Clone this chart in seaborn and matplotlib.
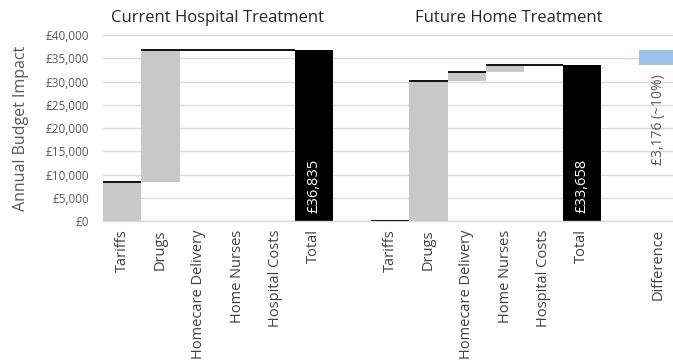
import numpy as np
import pandas as pd
import matplotlib
matplotlib.use("Agg")
import matplotlib.pyplot as plt
import matplotlib.transforms as mtransforms
import seaborn as sns

# ---- data -------------------------------------------------------------
items = ["Tariffs", "Drugs", "Homecare Delivery", "Home Nurses", "Hospital Costs"]
current_costs = [8500, 28335, 0, 0, 0]
future_costs = [120, 29900, 2000, 1638, 0]
current_total = 36835
future_total = 33658
difference = 3176
difference_label = "£3,176 (~10%)"
group_titles = ["Current Hospital Treatment", "Future Home Treatment"]
total_label = "Total"
difference_name = "Difference"

# ---- style ------------------------------------------------------------
sns.set_theme(style="white")
plt.rcParams["font.family"] = ["Open Sans", "DejaVu Sans"]

COLORS = {"step": "#C8C8C8", "total": "#000000", "diff": "#9DC3E6"}
GRID = "#D9D9D9"

fig = plt.figure(figsize=(6.73, 3.63), dpi=100)
ax = fig.add_axes([103 / 673, 0.391, 574.5 / 673, 0.5124])

# slot layout: current block, gap, future block, gap, difference
cur_pos = np.arange(len(items) + 1)
fut_pos = cur_pos + len(items) + 2
diff_pos = fut_pos[-1] + 2

# one row per bar: floating steps, totals and the difference
rows = []
for pos, costs, total in ((cur_pos, current_costs, current_total),
                          (fut_pos, future_costs, future_total)):
    cum = np.cumsum(costs)
    for p, c, t in zip(pos[:-1], costs, cum):
        rows.append({"pos": p, "height": c, "base": t - c, "top": t, "kind": "step"})
    rows.append({"pos": pos[-1], "height": total, "base": 0, "top": total,
                 "kind": "total"})
rows.append({"pos": diff_pos, "height": difference, "base": future_total,
             "top": future_total + difference, "kind": "diff"})
bars = pd.DataFrame(rows).sort_values("pos").reset_index(drop=True)

sns.barplot(data=bars, x="pos", y="height", native_scale=True, width=1.0,
            color=COLORS["step"], saturation=1, bottom=bars["base"].values,
            linewidth=0, ax=ax, zorder=2)
for patch, kind in zip(ax.patches, bars["kind"]):
    patch.set_facecolor(COLORS[kind])
    patch.set_edgecolor(COLORS[kind])

# running-total connector on top of each step
steps = bars[bars["kind"] == "step"]
ax.hlines(steps["top"].values, steps["pos"].values - 0.5,
          steps["pos"].values + 0.5, color="black", linewidth=1.3, zorder=3)

# value labels
for _, r in bars[bars["kind"] == "total"].iterrows():
    ax.annotate(f"£{int(r['height']):,}", (r["pos"], 0), xytext=(0, 6),
                textcoords="offset points", rotation=90, ha="center",
                va="bottom", color="white", fontsize=10.5, zorder=4)
ax.annotate(difference_label, (diff_pos, future_total), xytext=(0, -7),
            textcoords="offset points", rotation=90, ha="center", va="top",
            color="#595959", fontsize=10, zorder=4)

# axes
ax.set_xlim(-0.5, diff_pos + 0.5)
ax.set_ylim(0, 40000)
yt = np.arange(0, 40001, 5000)
ax.set_yticks(yt)
ax.set_yticklabels([f"£{v:,}" for v in yt], fontsize=8.5, color="#595959")
xt = list(cur_pos) + list(fut_pos) + [diff_pos]
xl = items + [total_label] + items + [total_label] + [difference_name]
ax.set_xticks(xt)
ax.set_xticklabels(xl, rotation=90, fontsize=10.5, color="#404040")
ax.tick_params(axis="both", length=0)
ax.tick_params(axis="x", pad=6)
ax.tick_params(axis="y", pad=10)
ax.set_xlabel("")
ax.set_ylabel("Annual Budget Impact", fontsize=11.5, color="#595959",
              labelpad=12)

ax.grid(axis="y", color=GRID, linewidth=1, zorder=0)
ax.set_axisbelow(True)
for s in ("left", "right", "top"):
    ax.spines[s].set_visible(False)
ax.spines["bottom"].set_color(GRID)
ax.spines["bottom"].set_linewidth(1)

# group titles
trans = mtransforms.blended_transform_factory(ax.transData, fig.transFigure)
ax.text(cur_pos.mean(), 0.95, group_titles[0], transform=trans, ha="center",
        va="center", fontsize=12, color="#262626")
ax.text(fut_pos.mean() + 0.6, 0.95, group_titles[1], transform=trans,
        ha="center", va="center", fontsize=12, color="#262626")

fig.savefig("out.png", dpi=100)
